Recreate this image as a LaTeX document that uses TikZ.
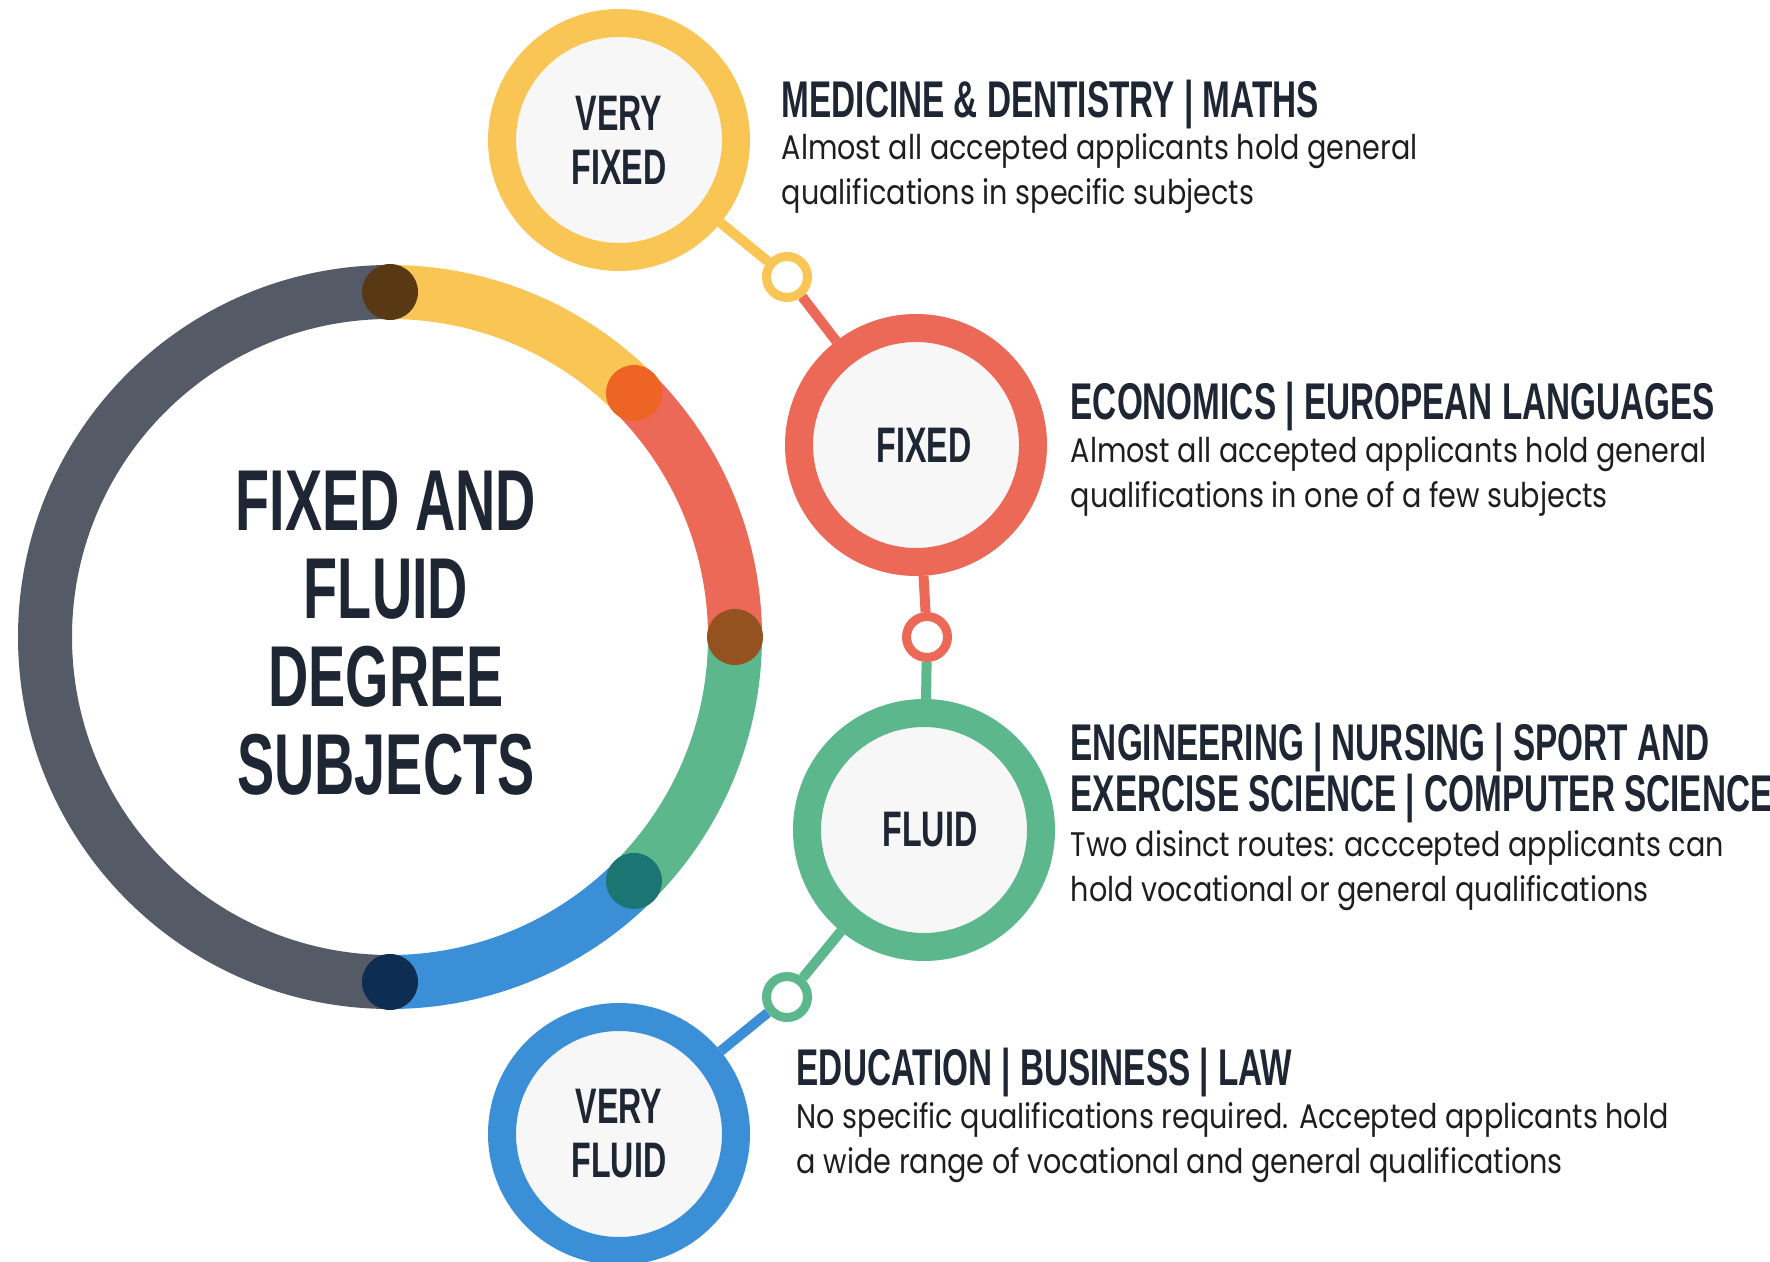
\documentclass[tikz,border=0pt]{standalone}
\usepackage{fontspec}
\usepackage{tkz-euclide}
\newfontfamily\headfont[FakeStretch=0.645]{Liberation Sans}
\newfontfamily\bodyfont[FakeStretch=0.84]{Poppins}
\definecolor{GreyClr}{RGB}{85,91,102}
\definecolor{YellowClr}{RGB}{249,197,85}
\definecolor{RedClr}{RGB}{236,104,87}
\definecolor{GreenClr}{RGB}{93,183,140}
\definecolor{BlueClr}{RGB}{58,143,215}
\definecolor{TopDotClr}{RGB}{88,57,19}
\definecolor{OrangeDotClr}{RGB}{238,100,36}
\definecolor{BrownDotClr}{RGB}{147,82,31}
\definecolor{TealDotClr}{RGB}{27,118,115}
\definecolor{NavyDotClr}{RGB}{14,45,82}
\definecolor{InnerClr}{RGB}{247,247,247}
\definecolor{TextClr}{RGB}{31,38,51}
\definecolor{BodyClr}{RGB}{30,30,30}

\begin{document}
\begin{tikzpicture}[
  ring/.style={line width=0.54cm},
  level/.style={circle,draw=#1,line width=0.28cm,fill=InnerClr,minimum size=2.34cm,
    inner sep=0pt,align=center,text=TextClr,
    font=\headfont\bfseries\fontsize{14.2}{15.4}\selectfont},
  knot/.style={circle,draw=#1,line width=0.09cm,fill=white,minimum size=0.41cm,inner sep=0pt},
  link/.style={line width=0.1cm},
  title/.style={align=center,inner sep=0pt,text=TextClr,
    font=\headfont\bfseries\fontsize{24.6}{25}\selectfont},
  head/.style={anchor=north west,align=left,inner sep=0pt,text=TextClr,
    font=\headfont\bfseries\fontsize{14.7}{14.5}\selectfont},
  body/.style={anchor=north west,align=left,inner sep=0pt,text=BodyClr,
    font=\bodyfont\fontsize{9.7}{12.8}\selectfont}]
\useasboundingbox (0,0) rectangle (17.70,12.61);

\tkzDefPoints{3.90/6.24/O,6.19/11.21/A,9.16/8.16/B,9.24/4.31/C,6.19/1.27/D,7.87/9.84/K1,9.27/6.24/K2,7.87/2.64/K3}

% big ring
\draw[ring,GreyClr] (O) ++(90:3.45) arc[start angle=90,end angle=270,radius=3.45];
\draw[ring,YellowClr] (O) ++(45:3.45) arc[start angle=45,end angle=90,radius=3.45];
\draw[ring,RedClr] (O) ++(0:3.45) arc[start angle=0,end angle=45,radius=3.45];
\draw[ring,GreenClr] (O) ++(-45:3.45) arc[start angle=-45,end angle=0,radius=3.45];
\draw[ring,BlueClr] (O) ++(-90:3.45) arc[start angle=-90,end angle=-45,radius=3.45];

\fill[TopDotClr] (O) ++(90:3.45) circle (0.28);
\fill[OrangeDotClr] (O) ++(45:3.45) circle (0.28);
\fill[BrownDotClr] (O) ++(0:3.45) circle (0.28);
\fill[TealDotClr] (O) ++(-45:3.45) circle (0.28);
\fill[NavyDotClr] (O) ++(-90:3.45) circle (0.28);

\node[title] (ttl) at (3.86,6.28) {FIXED AND\\FLUID\\DEGREE\\SUBJECTS};

% level circles and knots
\node[level=YellowClr] (vfix) at (A) {VERY\\FIXED};
\node[level=RedClr] (fix) at (B) {\hspace{0.16cm}FIXED};
\node[level=GreenClr] (flu) at (C) {\hspace{0.12cm}FLUID};
\node[level=BlueClr] (vflu) at (D) {VERY\\FLUID};
\node[knot=YellowClr] (k1) at (K1) {};
\node[knot=RedClr] (k2) at (K2) {};
\node[knot=GreenClr] (k3) at (K3) {};

\draw[link,YellowClr] (vfix) -- (k1);
\draw[link,RedClr] (k1) -- (fix);
\draw[link,RedClr] (fix) -- (k2);
\draw[link,GreenClr] (k2) -- (flu);
\draw[link,GreenClr] (flu) -- (k3);
\draw[link,BlueClr] (k3) -- (vflu);

% texts
\node[head] (h1) at (7.81,11.82) {MEDICINE \& DENTISTRY | MATHS};
\node[body] (b1) at (7.81,11.28) {Almost all accepted applicants hold general\\qualifications in specific subjects};
\node[head] (h2) at (10.70,8.80) {ECONOMICS | EUROPEAN LANGUAGES};
\node[body] (b2) at (10.70,8.25) {Almost all accepted applicants hold general\\qualifications in one of a few subjects};
\node[head] (h3) at (10.70,5.39) {ENGINEERING | NURSING | SPORT AND\\EXERCISE SCIENCE | COMPUTER SCIENCE};
\node[body] (b3) at (10.70,4.31) {Two disinct routes: acccepted applicants can\\hold vocational or general qualifications};
\node[head] (h4) at (7.96,2.14) {EDUCATION | BUSINESS | LAW};
\node[body] (b4) at (7.96,1.59) {No specific qualifications required. Accepted applicants hold\\a wide range of vocational and general qualifications};

\end{tikzpicture}
\end{document}
